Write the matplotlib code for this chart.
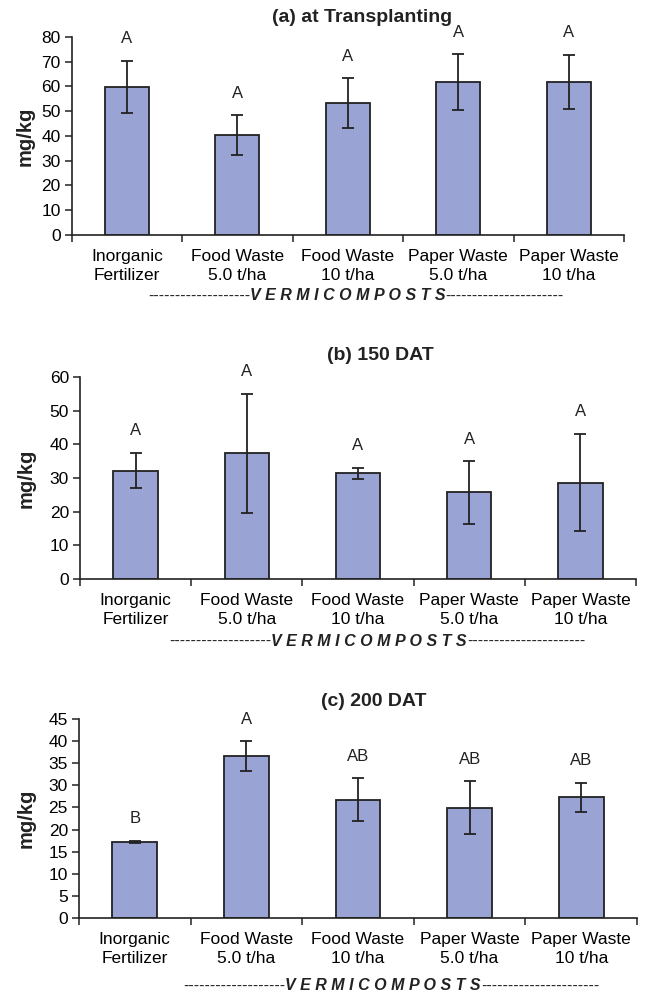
import numpy as np
import matplotlib
matplotlib.use("Agg")
import matplotlib.pyplot as plt

plt.rcParams['font.family'] = ['Liberation Sans', 'DejaVu Sans']

# Categories (x-axis)
categories = ["Inorganic\nFertilizer", "Food Waste\n5.0 t/ha", "Food Waste\n10 t/ha",
              "Paper Waste\n5.0 t/ha", "Paper Waste\n10 t/ha"]

# (a) at Transplanting
a_mean = [59.8, 40.4, 53.3, 61.8, 61.9]
a_err = [10.6, 7.9, 10.2, 11.2, 11.0]
a_letters = ["A", "A", "A", "A", "A"]

# (b) 150 DAT
b_mean = [32.2, 37.4, 31.4, 25.7, 28.6]
b_err = [5.3, 17.7, 1.7, 9.3, 14.5]
b_letters = ["A", "A", "A", "A", "A"]

# (c) 200 DAT
c_mean = [17.2, 36.6, 26.8, 24.9, 27.3]
c_err = [0.3, 3.4, 4.8, 6.0, 3.3]
c_letters = ["B", "A", "AB", "AB", "AB"]

W, H = 647, 994
bar_color = "#9aa4d4"
dark = "#222222"

panels = [
    # title, mean, err, letters, ymax, ystep, axes px (left, top, right, bottom), title xy, ylabel xy, vermi xy
    ("(a) at Transplanting", a_mean, a_err, a_letters, 80, 10,
     (71.7, 37, 624, 235), (362, 18), (25.5, 136), (348, 296)),
    ("(b) 150 DAT", b_mean, b_err, b_letters, 60, 10,
     (80, 377.3, 636, 578.7), (380, 356), (26, 478), (369, 641)),
    ("(c) 200 DAT", c_mean, c_err, c_letters, 45, 5,
     (79, 719.3, 637, 917.7), (374, 701), (26, 818), (383, 986)),
]

fig = plt.figure(figsize=(W / 100, H / 100), dpi=100)

for title, mean, err, letters, ymax, ystep, box, tpos, ypos, vpos in panels:
    l, t, r, b = box
    ax = fig.add_axes([l / W, 1 - b / H, (r - l) / W, (b - t) / H])
    x = np.arange(len(categories))
    ax.bar(x, mean, width=0.4, color=bar_color, edgecolor=dark, linewidth=1.3, zorder=2)
    ax.errorbar(x, mean, yerr=err, fmt="none", ecolor=dark, elinewidth=1.3,
                capsize=4, capthick=1.3, zorder=3)
    for xi, m, e, lab in zip(x, mean, err, letters):
        ax.text(xi, m + e + 0.11 * ymax, lab, ha="center", va="center", fontsize=12, color=dark)

    ax.set_xlim(-0.5, len(categories) - 0.5)
    ax.set_ylim(0, ymax)
    ax.set_yticks(np.arange(0, ymax + 0.1, ystep))
    ax.set_xticks(x)
    ax.set_xticklabels(categories, fontsize=12.5, linespacing=1.35)
    ax.set_xticks(np.arange(-0.5, len(categories)), minor=True)
    ax.tick_params(axis="x", which="major", length=0, pad=10)
    ax.tick_params(axis="x", which="minor", length=5, width=1.1, color=dark)
    ax.tick_params(axis="y", length=5, width=1.1, color=dark, labelsize=12.5, pad=3)
    for s in ["top", "right"]:
        ax.spines[s].set_visible(False)
    for s in ["left", "bottom"]:
        ax.spines[s].set_color(dark)
        ax.spines[s].set_linewidth(1.2)

    fig.text(tpos[0] / W, 1 - tpos[1] / H, title, ha="center", va="center",
             fontsize=14, fontweight="bold", color=dark)
    fig.text(ypos[0] / W, 1 - ypos[1] / H, "mg/kg", ha="center", va="center",
             rotation=90, fontsize=14.5, fontweight="bold", color=dark)

    # "----VERMICOMPOSTS----" line under the category labels
    mid = fig.text(vpos[0] / W, 1 - vpos[1] / H, "V E R M I C O M P O S T S", ha="center",
                   va="center", fontsize=11.5, fontweight="bold", fontstyle="italic", color=dark)
    ax.annotate("-" * 19, xy=(0, 0.5), xycoords=mid, ha="right", va="center",
                fontsize=11.5, color=dark, annotation_clip=False)
    ax.annotate("-" * 22, xy=(1, 0.5), xycoords=mid, ha="left", va="center",
                fontsize=11.5, color=dark, annotation_clip=False)

fig.savefig("out.png", dpi=100)
